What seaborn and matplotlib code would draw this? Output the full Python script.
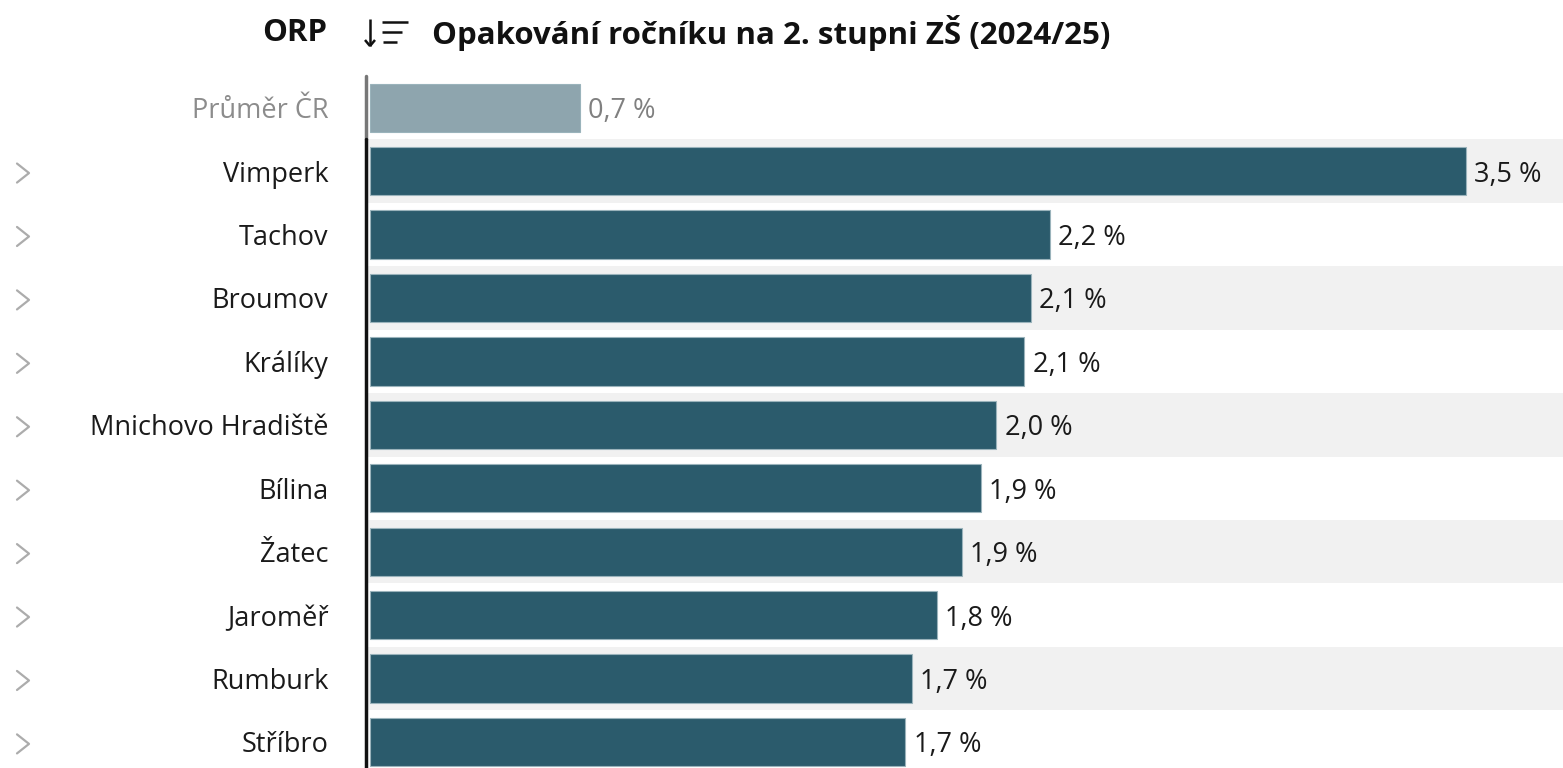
import pandas as pd
import seaborn as sns
import matplotlib.pyplot as plt
from matplotlib.lines import Line2D
from matplotlib.transforms import blended_transform_factory

# data
orp = ['Průměr ČR', 'Vimperk', 'Tachov', 'Broumov', 'Králíky', 'Mnichovo Hradiště',
       'Bílina', 'Žatec', 'Jaroměř', 'Rumburk', 'Stříbro']
share = [0.67, 3.50, 2.17, 2.11, 2.09, 2.00, 1.95, 1.89, 1.81, 1.73, 1.71]
labels = ['0,7 %', '3,5 %', '2,2 %', '2,1 %', '2,1 %', '2,0 %', '1,9 %', '1,9 %',
          '1,8 %', '1,7 %', '1,7 %']

W, H = 1563, 768
DARK = '#2b5b6c'
AVG = '#8ea5ae'
FS = 19.5

sns.set_style('white')
plt.rcParams['font.family'] = ['Open Sans', 'DejaVu Sans']

df = pd.DataFrame({'ORP': orp, 'Share': share})
colors = {o: (AVG if i == 0 else DARK) for i, o in enumerate(orp)}

fig = plt.figure(figsize=(W / 100, H / 100), dpi=100)
ax = fig.add_axes([366 / W, 0, 1 - 366 / W, (H - 76) / H])

# alternating row stripes
for i in range(1, len(orp), 2):
    ax.axhspan(i - 0.5, i + 0.5, color='#f1f1f1', zorder=0, lw=0)

sns.barplot(data=df, y='ORP', x='Share', hue='ORP', palette=colors, legend=False,
            orient='h', width=0.76, saturation=1, edgecolor='#9ab3bb', linewidth=0.8,
            ax=ax, zorder=2)

ax.set_xlim(-0.013, 3.81)
ax.set_ylim(10.41, -0.5)
ax.set_xlabel('')
ax.set_ylabel('')
ax.set_xticks([])
for s in ax.spines.values():
    s.set_visible(False)

# value labels
for i, (v, lab) in enumerate(zip(share, labels)):
    col = '#808080' if i == 0 else '#1a1a1a'
    ax.annotate(lab, (v, i), xytext=(6, 0), textcoords='offset points',
                ha='left', va='center_baseline', fontsize=FS, color=col)

ax.tick_params(axis='y', length=0, pad=27, labelsize=FS)
for i, t in enumerate(ax.get_yticklabels()):
    t.set_color('#8c8c8c' if i == 0 else '#1a1a1a')

# axis line: gray for the average row, black below
ax.plot([-0.013, -0.013], [-0.5, 0.5], color='#777777', lw=2.5, zorder=3, clip_on=False)
ax.plot([-0.013, -0.013], [0.5, 10.41], color='#111111', lw=2.5, zorder=3, clip_on=False)

# expand chevrons on the left
tr = blended_transform_factory(fig.transFigure, ax.transData)
for i in range(1, len(orp)):
    ax.add_line(Line2D([17 / W, 29 / W, 17 / W], [i - 0.12, i + 0.03, i + 0.18],
                       transform=tr, color='#acacac', lw=1.6, clip_on=False))

# header
fig.text(327 / W, 1 - 33 / H, 'ORP', ha='right', va='center', fontsize=22.5,
         fontweight='bold', color='#111111')
fig.text(432 / W, 1 - 33 / H, 'Opakování ročníku na 2. stupni ZŠ (2024/25)', ha='left',
         va='center', fontsize=22.5, fontweight='bold', color='#111111')

# sort icon
def px(x, y):
    return x / W, 1 - y / H

icon = [((370, 19), (370, 46)), ((365, 40), (370, 46)), ((375, 40), (370, 46)),
        ((382, 22), (408, 22)), ((382, 32), (402, 32)), ((383, 42), (397, 42))]
for a, b in icon:
    (x0, y0), (x1, y1) = px(*a), px(*b)
    fig.add_artist(Line2D([x0, x1], [y0, y1], transform=fig.transFigure,
                          color='#111111', lw=1.8, solid_capstyle='butt'))

plt.savefig('out.png', dpi=100)
plt.close()
